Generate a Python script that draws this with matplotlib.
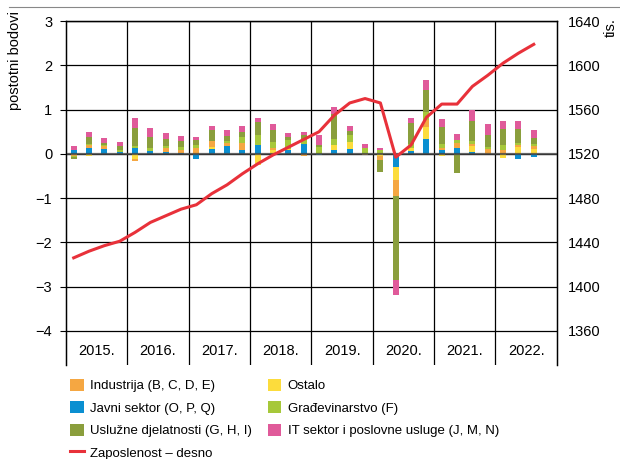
import matplotlib.pyplot as plt
import numpy as np
from matplotlib.lines import Line2D

plt.rcParams['font.family'] = ['Liberation Sans', 'DejaVu Sans']
plt.rcParams['font.size'] = 10.5

years = ['2015.', '2016.', '2017.', '2018.', '2019.', '2020.', '2021.', '2022.']

# quarterly contributions, 2015Q1 .. 2022Q3 (percentage points)
javni = [0.08, 0.14, 0.11, 0.04, 0.14, 0.06, 0.04, 0.02,
         -0.11, 0.10, 0.17, 0.08, 0.19, 0.0, 0.09, 0.23,
         -0.03, 0.09, 0.10, 0.0, 0.0, -0.29, 0.06, 0.34,
         0.08, 0.14, 0.04, 0.0, 0.0, -0.11, -0.06]
ostalo = [-0.03, -0.04, 0.0, 0.0, -0.11, 0.0, 0.0, 0.0,
          0.0, 0.05, 0.0, 0.0, -0.25, 0.09, 0.03, 0.0,
          0.0, 0.10, 0.16, 0.0, -0.05, -0.30, 0.08, 0.27,
          -0.04, 0.0, 0.13, 0.0, -0.09, 0.15, 0.10]
industrija = [-0.02, 0.05, 0.06, 0.0, -0.05, 0.0, 0.09, 0.07,
              0.13, 0.14, 0.08, 0.17, 0.0, 0.05, 0.0, -0.04,
              0.0, 0.0, 0.0, -0.03, -0.10, -0.36, 0.0, 0.15,
              0.06, 0.11, 0.05, 0.11, 0.09, 0.06, 0.07]
gradjevinarstvo = [-0.03, 0.03, 0.03, 0.04, 0.03, 0.07, 0.04, 0.06,
                   0.08, 0.0, 0.05, 0.13, 0.23, 0.13, 0.20, 0.10,
                   0.15, 0.15, 0.17, 0.14, 0.09, 0.0, 0.09, 0.19,
                   0.08, 0.07, 0.06, 0.05, 0.12, 0.04, 0.06]
usluzne = [-0.03, 0.15, 0.04, 0.10, 0.42, 0.26, 0.17, 0.14,
           0.10, 0.24, 0.10, 0.11, 0.30, 0.27, 0.06, 0.10,
           0.06, 0.57, 0.08, 0.0, -0.25, -1.89, 0.47, 0.49,
           0.38, -0.44, 0.47, 0.27, 0.36, 0.32, 0.13]
it = [0.10, 0.12, 0.12, 0.09, 0.21, 0.19, 0.12, 0.11,
      0.07, 0.11, 0.13, 0.14, 0.09, 0.13, 0.10, 0.07,
      0.22, 0.15, 0.13, 0.09, 0.05, -0.36, 0.12, 0.24,
      0.18, 0.12, 0.23, 0.25, 0.17, 0.17, 0.19]

# employment, thousands (right axis)
zaposlenost = [1426, 1432, 1437, 1441, 1449, 1458, 1464, 1470,
               1474, 1484, 1492, 1502, 1511, 1519, 1526, 1533,
               1540, 1555, 1566, 1570, 1566, 1517, 1528, 1553,
               1565, 1565, 1581, 1591, 1602, 1611, 1619]

series = [
    (javni, 'Javni sektor (O, P, Q)', '#0a8fd1'),
    (ostalo, 'Ostalo', '#fcdc3c'),
    (industrija, 'Industrija (B, C, D, E)', '#f5a742'),
    (gradjevinarstvo, 'Građevinarstvo (F)', '#a6c83a'),
    (usluzne, 'Uslužne djelatnosti (G, H, I)', '#8a9e3c'),
    (it, 'IT sektor i poslovne usluge (J, M, N)', '#e05a9a'),
]

x = np.arange(len(zaposlenost))

fig = plt.figure(figsize=(6.2, 4.59), dpi=100)
ax = fig.add_axes([0.1065, 0.205, 0.7915, 0.749])

pos = np.zeros(len(x))
neg = np.zeros(len(x))
handles = {}
for vals, name, col in series:
    v = np.array(vals)
    bottom = np.where(v >= 0, pos, neg)
    b = ax.bar(x, v, 0.4, bottom=bottom, color=col, zorder=3, label=name)
    handles[name] = b
    pos += np.where(v >= 0, v, 0)
    neg += np.where(v < 0, v, 0)

ax.set_xlim(-0.5, 31.5)
ax.set_ylim(-4.77, 3)
ax.set_yticks(range(-4, 4))
ax.set_yticklabels(['\u2212' + str(-t) if t < 0 else str(t) for t in range(-4, 4)])
for t in range(-4, 4):
    ax.axhline(t, color='black', lw=0.9, zorder=1)
ax.axhline(0, color='#444444', lw=1.6, alpha=0.8, zorder=4)
for k in range(1, 8):
    ax.axvline(4 * k - 0.5, color='black', lw=0.9, zorder=1)
ax.set_xticks([])
for k, yr in enumerate(years):
    ax.text(4 * k + 1.5, -4.45, yr, ha='center', va='center')
ax.tick_params(axis='y', length=4, pad=6)
ax.spines['bottom'].set_visible(False)
for s in ['left', 'right', 'top']:
    ax.spines[s].set_linewidth(1.0)

ax2 = ax.twinx()
ax2.plot(x, zaposlenost, color='#e8313a', lw=2.2, zorder=5)
ax2.set_ylim(1520 + 40 * -4.77, 1640)
ax2.set_yticks(range(1360, 1641, 40))
ax2.tick_params(axis='y', length=0, pad=8)
ax2.spines['bottom'].set_visible(False)

fig.text(0.025, 0.975, 'postotni bodovi', rotation=90, va='top', ha='center')
fig.text(0.985, 0.96, 'tis.', rotation=90, va='top', ha='center')
fig.add_artist(Line2D([0.015, 1.0], [0.985, 0.985], color='#888888', lw=0.8))

line_h = Line2D([], [], color='#e8313a', lw=2.2)
order = ['Industrija (B, C, D, E)', 'Javni sektor (O, P, Q)',
         'Uslužne djelatnosti (G, H, I)']
hs = [handles[n] for n in order] + [line_h] + \
     [handles['Ostalo'], handles['Građevinarstvo (F)'],
      handles['IT sektor i poslovne usluge (J, M, N)']]
ls = order + ['Zaposlenost \u2013 desno', 'Ostalo', 'Građevinarstvo (F)',
              'IT sektor i poslovne usluge (J, M, N)']
fig.legend(hs, ls, loc='upper left', bbox_to_anchor=(0.105, 0.186), ncol=2,
           frameon=False, handlelength=1.0, handleheight=1.0,
           columnspacing=1.2, labelspacing=0.68, handletextpad=0.5,
           borderaxespad=0, fontsize=9.5)

fig.savefig('out.png', dpi=100)
